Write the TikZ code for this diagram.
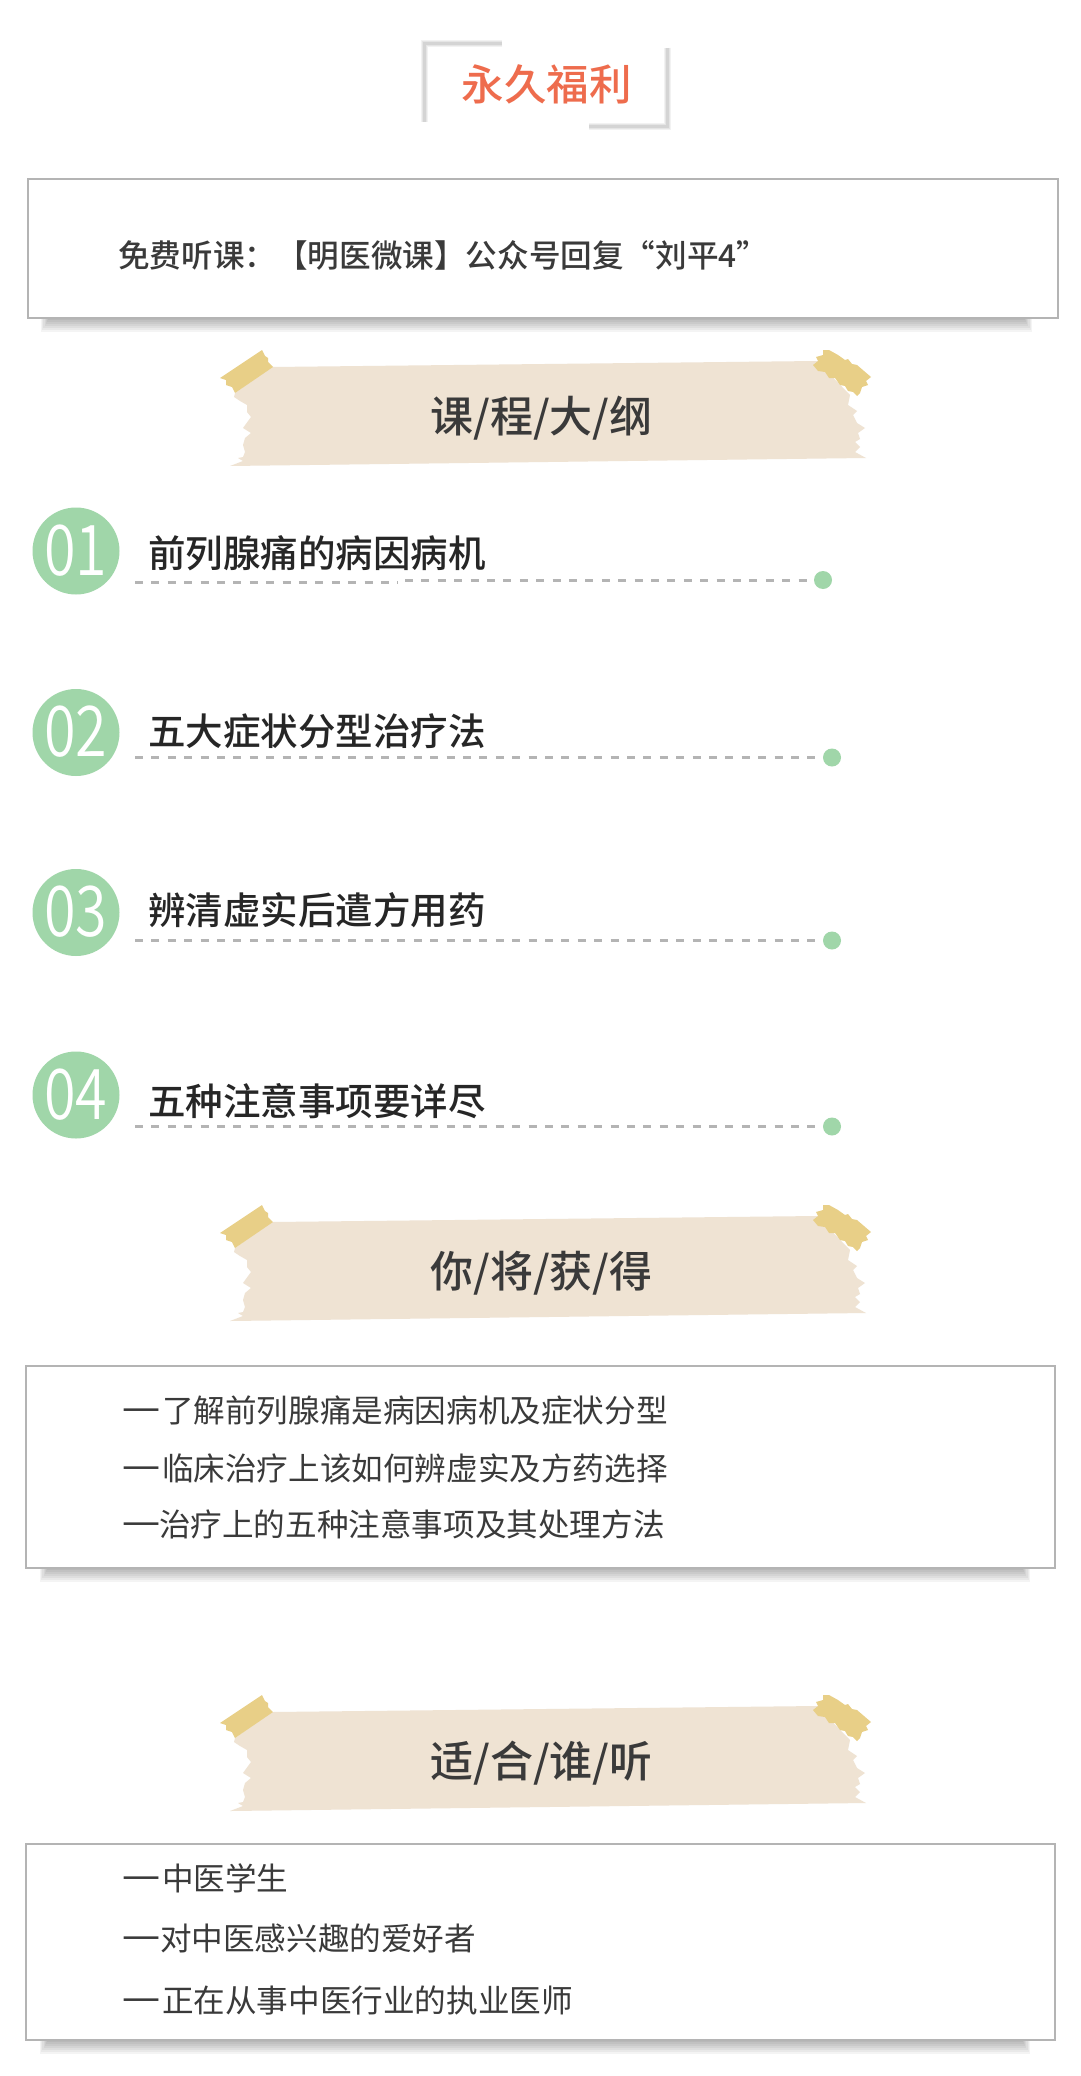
\documentclass[tikz,border=0pt]{standalone}
\usepackage{fontspec}
\setmainfont{Noto Sans CJK SC}
\newfontfamily\cjkm{Noto Sans CJK SC Medium}
\newfontfamily\cjkl{Noto Sans CJK SC DemiLight}
\definecolor{cgreen}{HTML}{A0D6A9}
\definecolor{cline}{HTML}{B4B4B4}
\definecolor{cpaper}{HTML}{EFE3D3}
\definecolor{ctape}{HTML}{E8CF87}
\definecolor{ctitle}{HTML}{EE6C4D}
\definecolor{ctext}{HTML}{3A3A3A}
\definecolor{citem}{HTML}{262626}
\newcommand{\dashmark}{\scalebox{1.2}[1]{一}}
\tikzset{
  x=1pt,y=-1pt,
  infobox/.style={draw=cline,line width=2pt,fill=white,inner sep=0pt,outer sep=0pt},
  numdisc/.style={circle,fill=cgreen,minimum size=87pt,inner sep=0pt,outer sep=0pt},
  numtext/.style={anchor=base,text=white,font=\cjkl\fontsize{70}{70}\selectfont,inner sep=0pt},
  enddot/.style={circle,fill=cgreen,minimum size=18pt,inner sep=0pt,outer sep=0pt},
  itemtext/.style={anchor=base west,text=citem,font=\cjkm\fontsize{37.5}{37.5}\selectfont,inner sep=0pt},
  boxtext/.style={anchor=base west,text=ctext,font=\fontsize{31.6}{31.6}\selectfont,inner sep=0pt},
  bannertext/.style={anchor=base,text=ctext,font=\cjkm\fontsize{43}{43}\selectfont,inner sep=0pt},
  dashline/.style={draw=cline,line width=3pt,dash pattern=on 8pt off 8.4pt},
  frameA/.style={draw=black!5,line width=7pt},
  frameB/.style={draw=black!10,line width=5pt},
  frameC/.style={draw=black!17,line width=3pt},
}
\newcommand{\boxshadow}[3]{%
  \foreach \k in {0,...,6}
    \fill[black,opacity=.045] (#1+\k*1.2,#3-4) rectangle (#2-\k*1.2,#3+14-2*\k);
}
\newcommand{\framecorner}[3]{%
  \draw[frameA] #1 -- #2 -- #3;
  \draw[frameB] #1 -- #2 -- #3;
  \draw[frameC] #1 -- #2 -- #3;
}
\newcommand{\banner}[3]{%
  \begin{scope}[yshift=-#1pt]
    \fill[cpaper] (272,367) -- (817,361) -- (850,395) -- (848,405) -- (857,411) -- (853,415)
      -- (857,423) -- (865,428) -- (858,433) -- (860,439) -- (855,442) -- (860,447) -- (855,452)
      -- (866,458) -- (230,466) -- (243,461) -- (238,458) -- (243,457) -- (245,452) -- (243,445)
      -- (245,438) -- (251,433) -- (243,428) -- (251,417) -- (247,412) -- (247,405) -- (240,401)
      -- (234,397) -- (235,393) -- cycle;
    \fill[ctape] (262,350) -- (265,356) -- (268,358) -- (268,362) -- (273,367) -- (235,393)
      -- (232,387) -- (226,385) -- (226,380) -- (220,378) -- cycle;
    \fill[ctape] (823,350) -- (829,350) -- (838,355) -- (845,360) -- (848,359) -- (852,364)
      -- (857,365) -- (871,377) -- (866,381) -- (868,385) -- (862,387) -- (860,393) -- (857,396)
      -- (853,392) -- (848,391) -- (845,386) -- (840,385) -- (835,378) -- (829,378) -- (825,372)
      -- (818,371) -- (813,365) -- (818,361) -- (816,357) -- (823,355) -- cycle;
    \node[bannertext] (#2) at (541.5,432) {#3};
  \end{scope}
}
\begin{document}
\begin{tikzpicture}
\useasboundingbox[fill=white] (0,0) rectangle (1080,2076);

% title
\framecorner{(502,44)}{(424,44)}{(424,122)}
\framecorner{(667,48)}{(667,127)}{(589,127)}
\node[anchor=base,text=ctitle,font=\cjkm\fontsize{42.5}{42.5}\selectfont,inner sep=0pt] (title) at (546.5,101) {永久福利};

% free listening box
\boxshadow{41}{1032}{318}
\node[infobox,minimum width=1030pt,minimum height=139pt] (freebox) at (543.4,248.5) {};
\node[anchor=base west,text=ctext,font=\cjkm\fontsize{31.6}{31.6}\selectfont,inner sep=0pt] (freetext) at (118,267) {免费听课：【明医微课】公众号回复“刘平4”};

\banner{0}{outline}{课/程/大/纲}

% outline items
\node[numdisc] (n1) at (76,551) {};
\node[numdisc] (n2) at (76,732.5) {};
\node[numdisc] (n3) at (76,912.5) {};
\node[numdisc] (n4) at (76,1095) {};
\foreach \n/\t/\y in {1/01/575,2/02/756.5,3/03/936.5,4/04/1119}
  \node[numtext] (num\n) at (76,\y) {\scalebox{.82}[1]{\t}};

\node[itemtext] (i1) at (148,567) {前列腺痛的病因病机};
\node[itemtext] (i2) at (148,745) {五大症状分型治疗法};
\node[itemtext] (i3) at (148,924) {辨清虚实后遣方用药};
\node[itemtext] (i4) at (148,1115) {五种注意事项要详尽};

\coordinate (s1a) at (135,582);
\coordinate (e1a) at (398,582);
\coordinate (s1b) at (405,580);
\coordinate (s2) at (135,757.5);
\coordinate (s3) at (135,940.5);
\coordinate (s4) at (135,1126.5);
\node[enddot] (d1) at (823,580) {};
\node[enddot] (d2) at (832,757.5) {};
\node[enddot] (d3) at (832,940.5) {};
\node[enddot] (d4) at (832,1126.5) {};
\draw[dashline] (s1a) -- (e1a);
\draw[dashline] (s1b) -- (d1.west);
\draw[dashline] (s2) -- (d2.west);
\draw[dashline] (s3) -- (d3.west);
\draw[dashline] (s4) -- (d4.west);

\banner{855}{gain}{你/将/获/得}

% gains box
\boxshadow{40}{1030}{1568}
\node[infobox,minimum width=1029.5pt,minimum height=202pt] (gainbox) at (540.5,1467) {};
\node[boxtext] (g1) at (122.5,1422) {\dashmark\kern1.5pt 了解前列腺痛是病因病机及症状分型};
\node[boxtext] (g2) at (122.5,1480) {\dashmark\kern1.5pt 临床治疗上该如何辨虚实及方药选择};
\node[boxtext] (g3) at (122.5,1536) {\dashmark\kern-1.5pt 治疗上的五种注意事项及其处理方法};

\banner{1345}{audience}{适/合/谁/听}

% audience box
\boxshadow{40}{1030}{2040}
\node[infobox,minimum width=1029.5pt,minimum height=196pt] (audbox) at (540.5,1942) {};
\node[boxtext] (a1) at (122.5,1890) {\dashmark\kern1.5pt 中医学生};
\node[boxtext] (a2) at (122.5,1950) {\dashmark\kern-.5pt 对中医感兴趣的爱好者};
\node[boxtext] (a3) at (122.5,2012) {\dashmark\kern1.5pt 正在从事中医行业的执业医师};
\end{tikzpicture}
\end{document}
